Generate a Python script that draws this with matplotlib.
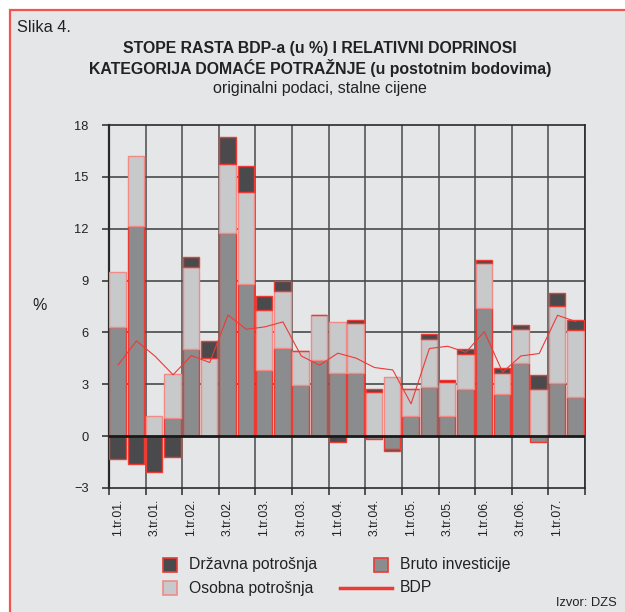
import numpy as np
import matplotlib.pyplot as plt
from matplotlib.patches import Rectangle
from matplotlib.lines import Line2D

plt.rcParams["font.family"] = ["Liberation Sans", "DejaVu Sans"]

# quarters, 1.tr.01. - 2.tr.07.
quarters = [f"{q}.tr.{y:02d}." for y in range(1, 8) for q in range(1, 5)][:26]
tick_labels = quarters[::2]

# contributions in percentage points
drzavna = [-1.30, -1.60, -2.10, -1.20, 0.56, 1.00, 1.52, 1.53, 0.84, 0.56,
           0.00, 0.00, -0.35, 0.15, 0.16, -0.10, 0.00, 0.27, 0.14, 0.29,
           0.15, 0.29, 0.27, 0.83, 0.72, 0.56]
osobna = [3.18, 4.02, 1.19, 2.53, 4.72, 4.51, 4.03, 5.29, 3.47, 3.31,
          1.98, 2.60, 2.93, 2.91, 2.54, 3.41, 1.54, 2.78, 1.94, 2.06,
          2.62, 1.23, 1.96, 2.70, 4.45, 3.87]
investicije = [6.32, 12.16, 0.00, 1.04, 5.07, 0.00, 11.73, 8.81, 3.81, 5.08,
               2.97, 4.41, 3.66, 3.66, -0.15, -0.75, 1.18, 2.85, 1.18, 2.72,
               7.42, 2.43, 4.22, -0.35, 3.10, 2.29]
bdp = [4.12, 5.51, 4.64, 3.55, 4.66, 4.26, 7.01, 6.18, 6.32, 6.61,
       4.64, 4.10, 4.80, 4.51, 3.97, 3.83, 1.87, 5.07, 5.20, 4.85,
       6.05, 3.70, 4.64, 4.78, 6.99, 6.63]

bg = "#e5e6e8"
red = "#ec3b35"
pink = "#f28a86"

W, H = 625, 612
fig = plt.figure(figsize=(W / 100, H / 100), dpi=100)
fig.patch.set_facecolor("white")

# gray panel with red frame (only left and top visible)
fig.add_artist(Rectangle((10 / W, -0.05), 1.1, (H - 10) / H + 0.05,
                         transform=fig.transFigure, facecolor=bg,
                         edgecolor="#f05550", linewidth=1.6, zorder=0))

ax = fig.add_axes([109 / W, 1 - 488 / H, 476 / W, (488 - 125) / H])
ax.set_facecolor(bg)

x = np.arange(len(quarters))
series = [
    (investicije, "#8b8c8e", red, "Bruto investicije"),
    (osobna, "#c8c9cb", pink, "Osobna potrošnja"),
    (drzavna, "#4a4a4c", red, "Državna potrošnja"),
]
pos = np.zeros(len(x))
neg = np.zeros(len(x))
for vals, fc, ec, name in series:
    v = np.array(vals)
    bottom = np.where(v >= 0, pos, neg)
    ax.bar(x - 0.03, v, 0.9, bottom=bottom, color=fc, edgecolor=ec,
           linewidth=1.0, zorder=3)
    pos += np.where(v >= 0, v, 0)
    neg += np.where(v < 0, v, 0)

ax.plot(x, bdp, color=red, linewidth=0.8, zorder=4)

ax.set_xlim(-0.5, len(x) - 0.5)
ax.set_ylim(-3, 18)
ax.set_yticks(np.arange(-3, 19, 3))

# grid
for yv in range(3, 18, 3):
    ax.axhline(yv, color="#3c3c3c", linewidth=1.1, zorder=1)
bounds = np.arange(-0.5, len(x), 2)
for b in bounds[1:]:
    ax.axvline(b, color="#4a4a4a", linewidth=1.1, zorder=1)
ax.axhline(0, color="#1a1a1a", linewidth=2.0, zorder=5)

for s in ax.spines.values():
    s.set_color("#2a2a2a")
    s.set_linewidth(1.2)
ax.spines["left"].set_linewidth(1.6)

ax.set_xticks(bounds)
ax.set_xticklabels([])
ax.set_xticks(x[::2], labels=tick_labels, minor=True)
ax.tick_params(axis="x", which="major", direction="out", length=5,
               width=1.1, color="#2a2a2a")
ax.tick_params(axis="x", which="minor", length=0, pad=8, labelsize=8.8,
               labelrotation=90, labelcolor="#222222")
ax.tick_params(axis="y", direction="out", length=5, width=1.1,
               color="#2a2a2a", labelsize=9.3, labelcolor="#222222", pad=9.5)
for lbl in ax.get_xticklabels(minor=True):
    lbl.set_va("top")

# titles
fig.text(17 / W, 1 - 27 / H, "Slika 4.", fontsize=11.7, va="center",
         color="#222222")
fig.text(320 / W, 1 - 48 / H, "STOPE RASTA BDP-a (u %) I RELATIVNI DOPRINOSI",
         fontsize=11.4, fontweight="bold", ha="center", va="center",
         color="#222222")
fig.text(320 / W, 1 - 68 / H,
         "KATEGORIJA DOMAĆE POTRAŽNJE (u postotnim bodovima)",
         fontsize=11.4, fontweight="bold", ha="center", va="center",
         color="#222222")
fig.text(320 / W, 1 - 88 / H, "originalni podaci, stalne cijene",
         fontsize=11.5, ha="center", va="center", color="#222222")
fig.text(40 / W, 1 - 305 / H, "%", fontsize=11.5, ha="center", va="center",
         color="#222222")
fig.text(617 / W, 1 - 603 / H, "Izvor: DZS", fontsize=9.3, ha="right",
         va="center", color="#222222")

# legend drawn by hand
def square(px, py, fc, ec):
    fig.add_artist(Rectangle((px / W, 1 - (py + 7) / H), 14 / W, 14 / H,
                             transform=fig.transFigure, facecolor=fc,
                             edgecolor=ec, linewidth=1.2))

square(163, 565, "#4a4a4c", red)
square(163, 588, "#c8c9cb", pink)
square(374, 565, "#8b8c8e", red)
fig.add_artist(Line2D([340 / W, 392 / W], [1 - 588 / H, 1 - 588 / H],
                      transform=fig.transFigure, color=red, linewidth=2.5))
for tx, ty, t in [(189, 565, "Državna potrošnja"), (189, 588, "Osobna potrošnja"),
                  (400, 565, "Bruto investicije"), (400, 588, "BDP")]:
    fig.text(tx / W, 1 - ty / H, t, fontsize=11.3, va="center", color="#222222")

fig.savefig("out.png", dpi=100, facecolor="white")
